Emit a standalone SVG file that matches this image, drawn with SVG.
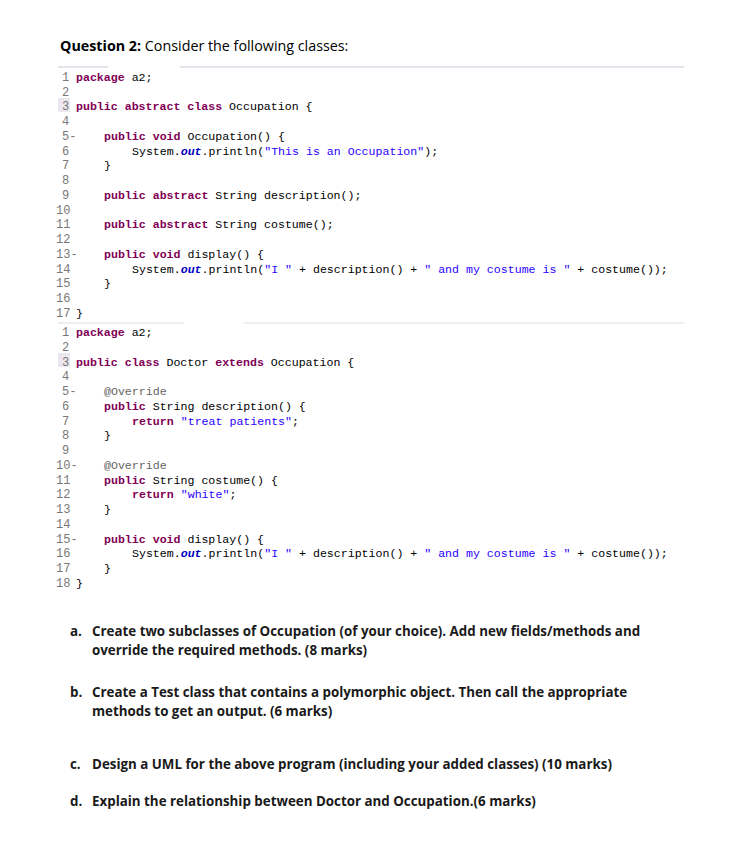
<svg xmlns="http://www.w3.org/2000/svg" width="736" height="843" viewBox="0 0 736 843">
<style>
.c{font-family:"Liberation Mono",monospace;font-size:11.6px;fill:#000;white-space:pre}
.n{font-family:"Liberation Mono",monospace;font-size:12px;fill:#787878}
.k{fill:#7f0055;font-weight:bold}
.s{fill:#2a00ff}
.o{fill:#0000c0;font-weight:bold;font-style:italic}
.a{fill:#646464}
.q{font-family:"Open Sans",sans-serif;font-size:13.35px;font-weight:bold;fill:#1a1a1a}
</style>
<rect width="736" height="843" fill="#fff"/>
<text x="60" y="51" font-family="Open Sans,sans-serif" font-size="14.3" fill="#000"><tspan font-weight="bold">Question 2:</tspan>  Consider the following classes:</text>
<line x1="58" y1="67" x2="108" y2="67" stroke="#d8dde6" stroke-width="1.5"/>
<line x1="180" y1="67" x2="684" y2="67" stroke="#d8dde6" stroke-width="1.5"/>
<rect x="58" y="98" width="12" height="14" fill="#ece6ee"/>
<g id="code1">
<text class="n" x="62" y="81">1</text><text class="c" x="76" y="81"><tspan class="k">package</tspan> a2;</text>
<text class="n" x="62" y="96">2</text>
<text class="n" x="62" y="110">3</text><text class="c" x="76" y="110"><tspan class="k">public abstract class</tspan> Occupation {</text>
<text class="n" x="62" y="125">4</text>
<text class="n" x="62" y="140">5-</text><text class="c" x="104" y="140"><tspan class="k">public void</tspan> Occupation() {</text>
<text class="n" x="62" y="155">6</text><text class="c" x="132" y="155">System.<tspan class="o">out</tspan>.println(<tspan class="s">"This is an Occupation"</tspan>);</text>
<text class="n" x="62" y="169">7</text><text class="c" x="104" y="169">}</text>
<text class="n" x="62" y="184">8</text>
<text class="n" x="62" y="199">9</text><text class="c" x="104" y="199"><tspan class="k">public abstract</tspan> String description();</text>
<text class="n" x="56" y="214">10</text>
<text class="n" x="56" y="228">11</text><text class="c" x="104" y="228"><tspan class="k">public abstract</tspan> String costume();</text>
<text class="n" x="56" y="243">12</text>
<text class="n" x="56" y="258">13-</text><text class="c" x="104" y="258"><tspan class="k">public void</tspan> display() {</text>
<text class="n" x="56" y="273">14</text><text class="c" x="132" y="273">System.<tspan class="o">out</tspan>.println(<tspan class="s">"I "</tspan> + description() + <tspan class="s">" and my costume is "</tspan> + costume());</text>
<text class="n" x="56" y="287">15</text><text class="c" x="104" y="287">}</text>
<text class="n" x="56" y="302">16</text>
<text class="n" x="56" y="317">17</text><text class="c" x="76" y="317">}</text>
</g>
<line x1="58" y1="323" x2="184" y2="323" stroke="#d8dde6"/>
<line x1="244" y1="323" x2="684" y2="323" stroke="#d8dde6"/>
<rect x="58" y="353" width="12" height="14" fill="#ece6ee"/>
<g id="code2">
<text class="n" x="62" y="336">1</text><text class="c" x="76" y="336"><tspan class="k">package</tspan> a2;</text>
<text class="n" x="62" y="351">2</text>
<text class="n" x="62" y="366">3</text><text class="c" x="76" y="366"><tspan class="k">public class</tspan> Doctor <tspan class="k">extends</tspan> Occupation {</text>
<text class="n" x="62" y="380">4</text>
<text class="n" x="62" y="395">5-</text><text class="c a" x="104" y="395">@Override</text>
<text class="n" x="62" y="410">6</text><text class="c" x="104" y="410"><tspan class="k">public</tspan> String description() {</text>
<text class="n" x="62" y="425">7</text><text class="c" x="132" y="425"><tspan class="k">return</tspan> <tspan class="s">"treat patients"</tspan>;</text>
<text class="n" x="62" y="439">8</text><text class="c" x="104" y="439">}</text>
<text class="n" x="62" y="454">9</text>
<text class="n" x="56" y="469">10-</text><text class="c a" x="104" y="469">@Override</text>
<text class="n" x="56" y="484">11</text><text class="c" x="104" y="484"><tspan class="k">public</tspan> String costume() {</text>
<text class="n" x="56" y="498">12</text><text class="c" x="132" y="498"><tspan class="k">return</tspan> <tspan class="s">"white"</tspan>;</text>
<text class="n" x="56" y="513">13</text><text class="c" x="104" y="513">}</text>
<text class="n" x="56" y="528">14</text>
<text class="n" x="56" y="543">15-</text><text class="c" x="104" y="543"><tspan class="k">public void</tspan> display() {</text>
<text class="n" x="56" y="557">16</text><text class="c" x="132" y="557">System.<tspan class="o">out</tspan>.println(<tspan class="s">"I "</tspan> + description() + <tspan class="s">" and my costume is "</tspan> + costume());</text>
<text class="n" x="56" y="572">17</text><text class="c" x="104" y="572">}</text>
<text class="n" x="56" y="587">18</text><text class="c" x="76" y="587">}</text>
</g>
<g id="questions">
<text class="q" x="70" y="636">a.</text><text class="q" x="92" y="636">Create two subclasses of Occupation (of your choice). Add new fields/methods and</text>
<text class="q" x="92" y="655">override the required methods.  (8 marks)</text>
<text class="q" x="70" y="697" font-size="15">b.</text><text class="q" x="92" y="697">Create a Test class that contains a polymorphic object. Then call the appropriate</text>
<text class="q" x="92" y="716">methods to get an output. (6 marks)</text>
<text class="q" x="70" y="769" font-size="15">c.</text><text class="q" x="92" y="769">Design a UML for the above program (including your added classes) (10 marks)</text>
<text class="q" x="70" y="806" font-size="15">d.</text><text class="q" x="92" y="806">Explain the relationship between Doctor and Occupation.(6 marks)</text>
</g>
</svg>
